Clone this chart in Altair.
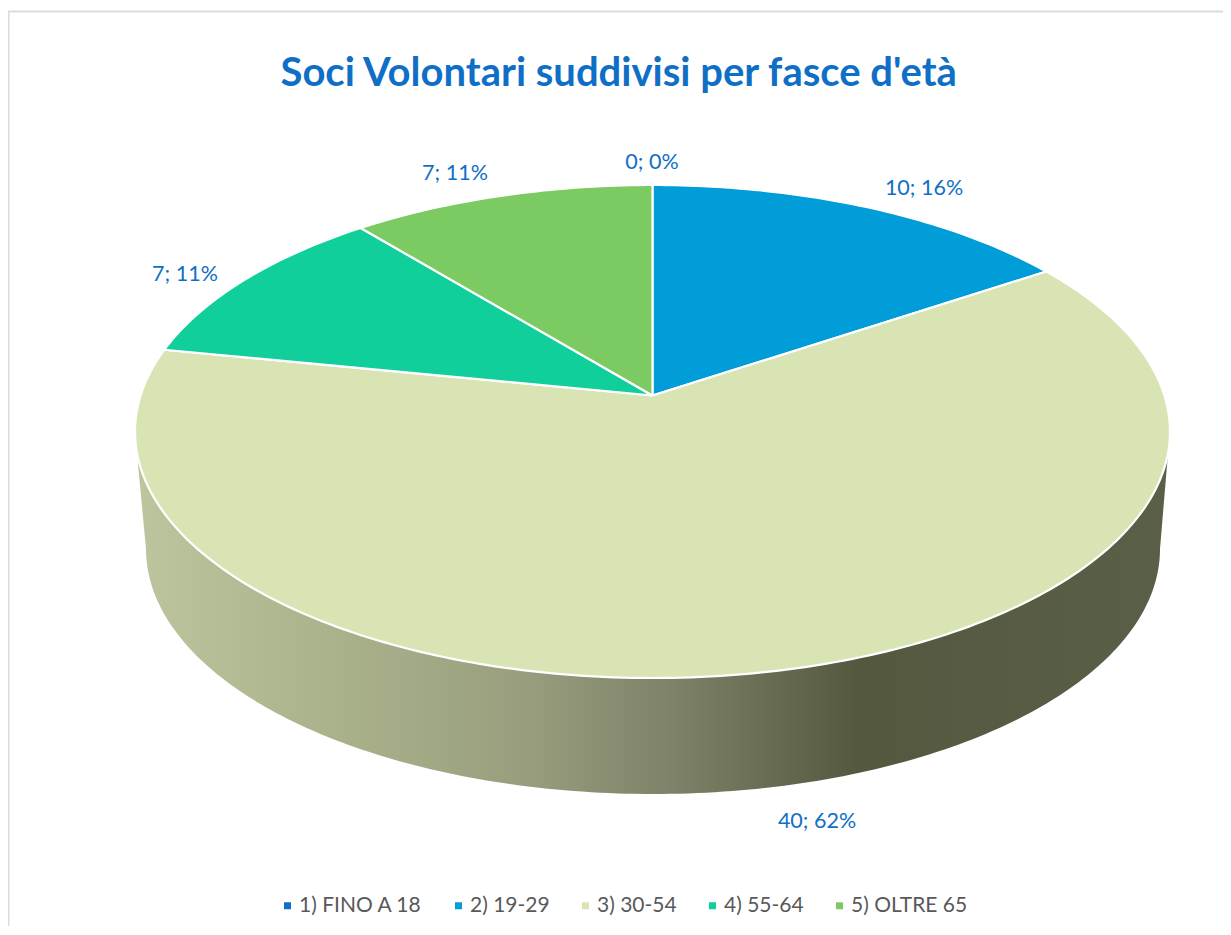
import math
import altair as alt
import pandas as pd

# --- values ---
categories = ["1) FINO A 18", "2) 19-29", "3) 30-54", "4) 55-64", "5) OLTRE 65"]
values = [0, 10, 40, 7, 7]
colors = ["#0f6fc6", "#009dd9", "#d9e4b5", "#10cf9b", "#7cca62"]
title_text = "Soci Volontari suddivisi per fasce d'età"
label_x = [652, 924, 817, 185, 455]
label_y = [163, 189, 822, 275, 174]

FONT = "Lato"
BLUE = "#0f6fc6"
GREY = "#595959"
BORDER = "#dcdcdc"

# --- tilted-pie geometry (pixel space of the picture) ---
CX, CY, RX, RY = 652.5, 431.5, 517.5, 246.5   # rim of the top face
P = 0.146                                     # perspective shift of the pivot
LOW_CX, LOW_CY, LOW_RX, LOW_RY = 653, 549, 507, 245  # rim of the bottom face


def rim(frac):
    """Point on the top rim for a cumulative fraction, clockwise from 12 o'clock."""
    a = 2 * math.pi * frac
    u, v = math.sin(a), -math.cos(a)
    d = 1 - P * v
    s = u * math.sqrt(1 - P * P) / d
    t = (v - P) / d
    return CX + RX * s, CY + RY * t


pivot = rim(0)[0], CY - RY * P
total = sum(values)
rows = []
start = 0
for cat, val in zip(categories, values):
    pts = [pivot]
    n = max(1, int(val * 6))
    for k in range(n + 1):
        pts.append(rim((start + val * k / n) / total))
    pts.append(pivot)
    for i, (x, y) in enumerate(pts):
        rows.append({"cat": cat, "x": x, "y": y, "o": i})
    start += val
slices = pd.DataFrame(rows)

wall_rows = []
for deg in range(175, 4, -1):
    a = math.radians(deg)
    wall_rows.append((CX + RX * math.cos(a), CY + RY * math.sin(a)))
for deg in range(0, 181):
    a = math.radians(deg)
    wall_rows.append((LOW_CX + LOW_RX * math.cos(a), LOW_CY + LOW_RY * math.sin(a)))
wall_rows.append(wall_rows[0])
wall = pd.DataFrame([{"x": x, "y": y, "o": i} for i, (x, y) in enumerate(wall_rows)])

labels = pd.DataFrame({
    "x": label_x,
    "y": label_y,
    "t": [f"{v}; {round(v / total * 100)}%" for v in values],
})

X = alt.X("x:Q", axis=None, scale=alt.Scale(domain=[8, 1223], nice=False, zero=False))
Y = alt.Y("y:Q", axis=None, scale=alt.Scale(domain=[8, 926], nice=False, zero=False, reverse=True))

border = pd.DataFrame({"x": [8.5, 8.5, 1223], "y": [926, 11.5, 11.5], "o": [0, 1, 2]})
border_layer = alt.Chart(border).mark_line(color=BORDER, strokeWidth=2).encode(x=X, y=Y, order="o:Q")

wall_layer = alt.Chart(wall).mark_line(
    filled=True,
    fill=alt.LinearGradient(
        gradient="linear", x1=0, x2=1, y1=0, y2=0,
        stops=[
            alt.GradientStop(offset=0, color="#bcc59e"),
            alt.GradientStop(offset=0.19, color="#aab28b"),
            alt.GradientStop(offset=0.37, color="#999f7e"),
            alt.GradientStop(offset=0.51, color="#7f846a"),
            alt.GradientStop(offset=0.70, color="#54583f"),
            alt.GradientStop(offset=1, color="#5a5f48"),
        ],
    ),
    strokeWidth=0,
).encode(x=X, y=Y, order="o:Q")

slice_layer = alt.Chart(slices).mark_line(
    filled=True, stroke="white", strokeWidth=2.2, strokeJoin="round"
).encode(
    x=X,
    y=Y,
    order="o:Q",
    color=alt.Color(
        "cat:N",
        scale=alt.Scale(domain=categories, range=colors),
        legend=alt.Legend(
            title=None,
            orient="none",
            legendX=269,
            legendY=887,
            direction="horizontal",
            columns=5,
            columnPadding=25,
            symbolType="square",
            symbolSize=49,
            symbolStrokeWidth=0,
            labelFont=FONT,
            labelFontSize=21,
            labelColor=GREY,
            labelOffset=1,
            labelLimit=300,
        ),
    ),
)

label_layer = alt.Chart(labels).mark_text(
    font=FONT, fontSize=21.5, color=BLUE, align="center", baseline="middle"
).encode(x=X, y=Y, text="t:N")

chart = (
    alt.layer(border_layer, wall_layer, slice_layer, label_layer)
    .properties(
        width=1215,
        height=918,
        padding=0,
        autosize=alt.AutoSizeParams(type="none"),
        title=alt.TitleParams(
            title_text,
            font=FONT,
            fontSize=40,
            fontWeight="bold",
            color=BLUE,
            anchor="start",
            offset=0,
            dx=276,
            dy=86,
        ),
    )
    .configure_view(stroke=None)
)

chart.save("out.html", embed_options={"renderer": "svg", "actions": False})
